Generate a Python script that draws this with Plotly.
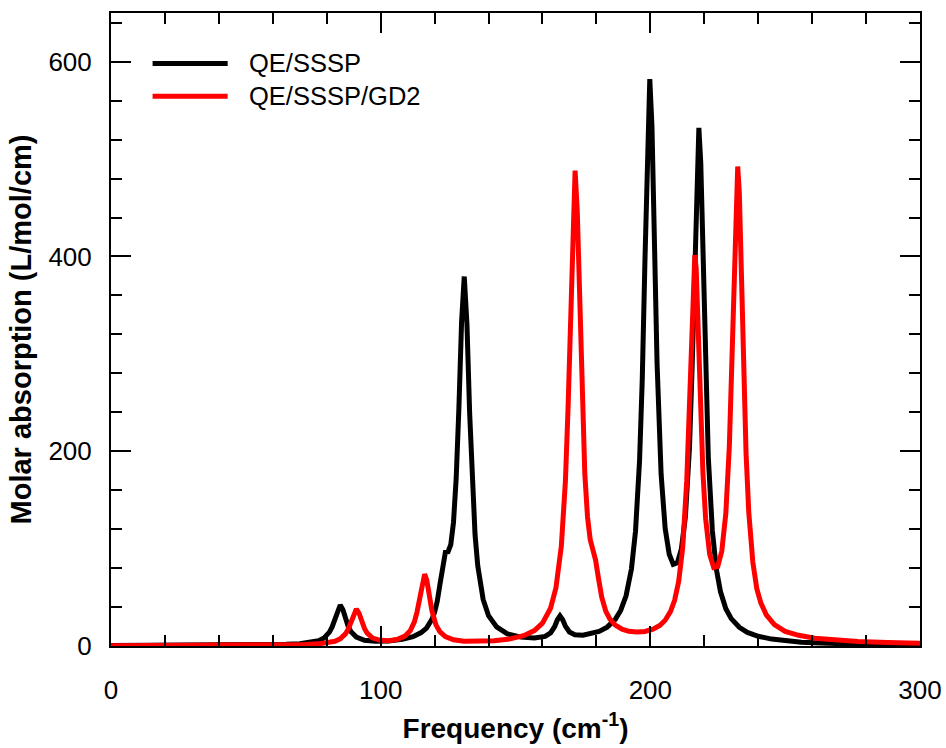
import plotly.graph_objects as go

# Simulated IR absorption spectra, sampled points (frequency in cm^-1, absorption in L/mol/cm)
freq_sssp = [0, 20, 40, 55, 65, 70, 74, 77, 79, 81, 82, 83, 84, 85, 86, 87, 88, 89, 91, 94,
             98, 103, 108, 112, 115, 117, 119, 120, 121, 122, 123, 124, 125, 126, 127, 128,
             129, 130, 131, 132, 133, 134, 135, 136, 138, 140, 143, 147, 152, 157, 161, 163,
             164.5, 165.5, 166.5, 167.5, 168.5, 170, 172, 175, 178, 181, 184, 187, 189, 191,
             193, 194.5, 196, 197, 198, 199, 199.8, 200.6, 201.5, 202.5, 204, 205.5, 207,
             208.5, 210, 211.5, 213, 214.5, 215.5, 216.5, 217.3, 218, 218.7, 219.5, 220.5,
             221.5, 223, 224.5, 226, 228, 230, 233, 236, 240, 245, 250, 256, 263, 272, 282, 300]
abs_sssp = [0.4, 0.5, 0.7, 1.1, 1.7, 2.4, 3.5, 5.5, 8.3, 14.2, 19.6, 27.6, 37.2, 42.1, 37.2,
            27.8, 19.8, 14.6, 9.1, 5.9, 4.9, 5.2, 6.9, 9.6, 13.8, 18.4, 27.3, 34.7, 46.1, 63.6,
            84.9, 96.4, 96.8, 104.2, 126.8, 172, 243.5, 332.5, 379.4, 330.3, 238.8, 163.8,
            114.2, 82.4, 47.8, 31.1, 19.6, 12.5, 9.1, 8.2, 9.9, 13.4, 19.8, 26.7, 30.9, 27.0,
            20.4, 14.4, 11.5, 11.0, 12.3, 14.9, 19.4, 27.4, 36.5, 51.5, 79.2, 117.9, 190.1,
            273, 395.5, 532, 582.2, 533.8, 413.4, 289.8, 176.3, 120.7, 94.2, 83.8, 85.3, 99.4,
            132.8, 203, 286.2, 404.5, 497.9, 532.1, 496.2, 400.7, 279.8, 193.7, 118.4, 78.6,
            55.9, 38.3, 28.1, 19.2, 14.0, 10.0, 7.1, 5.3, 3.9, 3.0, 2.2, 1.6, 1.05]

freq_gd2 = [0, 20, 40, 55, 65, 72, 77, 80, 83, 85, 87, 88, 89, 90, 91, 92, 93, 94, 95, 97,
            100, 103, 106, 109, 111, 112.5, 113.5, 114.5, 115.5, 116.3, 117.1, 118, 119,
            120.5, 122, 124, 127, 131, 136, 142, 148, 153, 157, 160, 163, 165, 167, 168.5,
            169.5, 170.5, 171.3, 172.1, 172.9, 173.7, 174.7, 175.7, 176.7, 177.7, 178.7,
            179.7, 180.7, 182, 183.5, 185, 187, 189.5, 192, 195, 198, 201, 203.5, 205.5,
            207.5, 209, 210.5, 212, 213.5, 214.5, 215.3, 216, 216.5, 217, 217.7, 218.5,
            219.5, 220.5, 222, 223.5, 225, 226.5, 228, 229.3, 230.3, 231.2, 231.8, 232.4,
            233, 233.6, 234.5, 235.5, 236.5, 238, 239.5, 241, 243, 246, 250, 255, 261, 268,
            277, 288, 300]
abs_gd2 = [0.3, 0.4, 0.5, 0.8, 1.05, 1.5, 2.2, 3.1, 4.8, 7.3, 12.7, 17.6, 24.9, 33.5, 38.0,
           33.6, 25.1, 18.0, 13.2, 8.1, 5.8, 5.4, 6.6, 10.1, 15.9, 24.8, 35.1, 50.5, 67.6,
           73.8, 67.6, 52.2, 36.3, 21.7, 14.4, 9.6, 6.4, 4.9, 4.7, 5.4, 7.3, 10.6, 15.8, 23.4,
           38.8, 59.7, 102.6, 168.9, 245.2, 354.4, 445.7, 488.1, 447, 357, 250, 176.9, 132.8,
           109.2, 98.6, 88.2, 70.6, 49.8, 35.6, 27.6, 21.4, 17.2, 15.1, 14.3, 14.9, 17.2,
           21.1, 26.5, 35.5, 46.9, 66.1, 100.9, 169.5, 247.9, 327.4, 386, 401.5, 387.4,
           330.7, 253.4, 178.1, 131, 94.2, 80.6, 81.7, 97.5, 136.3, 205.3, 296, 403.7, 466.9,
           492.4, 465.5, 400.9, 290.9, 197.5, 137.5, 86.2, 58.5, 44, 32, 22, 15, 11, 8, 6,
           4.7, 3.6, 2.9]

series_names = ["QE/SSSP", "QE/SSSP/GD2"]
series_colors = ["#000000", "#ff0000"]

x_ticks = [0, 100, 200, 300]
y_ticks = [0, 200, 400, 600]

FONT = "Liberation Sans, Arial, Helvetica, sans-serif"

fig = go.Figure()
for xs, ys, name, color in [(freq_sssp, abs_sssp, series_names[0], series_colors[0]),
                            (freq_gd2, abs_gd2, series_names[1], series_colors[1])]:
    fig.add_trace(go.Scatter(x=xs, y=ys, mode="lines", name=name,
                             line=dict(color=color, width=5), showlegend=False))

axis_common = dict(
    showline=True, linecolor="black", linewidth=2, mirror="allticks",
    ticks="inside", ticklen=20, tickwidth=2, tickcolor="black",
    showgrid=False, zeroline=False,
    tickfont=dict(family=FONT, size=26, color="black"),
)

fig.update_xaxes(
    range=[0, 300], tickvals=x_ticks, ticklabelstandoff=20,
    minor=dict(dtick=20, ticks="inside", ticklen=11, tickwidth=2, tickcolor="black"),
    title=dict(text="<b>Frequency (cm<sup>-1</sup>)</b>", standoff=14,
               font=dict(family=FONT, size=28, color="black")),
    **axis_common,
)
fig.update_yaxes(
    range=[0, 650], tickvals=y_ticks, ticklabelstandoff=12,
    minor=dict(dtick=40, ticks="inside", ticklen=11, tickwidth=2, tickcolor="black"),
    title=dict(text="<b>Molar absorption (L/mol/cm)</b>", standoff=8,
               font=dict(family=FONT, size=29, color="black")),
    **axis_common,
)

# Legend drawn inside the frame with long line samples
legend_rows = [0.9204, 0.8683]
for name, color, yy in zip(series_names, series_colors, legend_rows):
    fig.add_shape(type="line", xref="paper", yref="paper",
                  x0=0.0514, x1=0.1442, y0=yy, y1=yy,
                  line=dict(color=color, width=5))
    fig.add_annotation(xref="paper", yref="paper", x=0.1686, y=yy,
                       xanchor="left", yanchor="middle", showarrow=False,
                       text=name, font=dict(family=FONT, size=25.5, color="black"))

fig.update_layout(
    width=946, height=748,
    margin=dict(l=111, r=26, t=13, b=102, autoexpand=False),
    paper_bgcolor="white", plot_bgcolor="white",
)

fig.write_html("out.html")
